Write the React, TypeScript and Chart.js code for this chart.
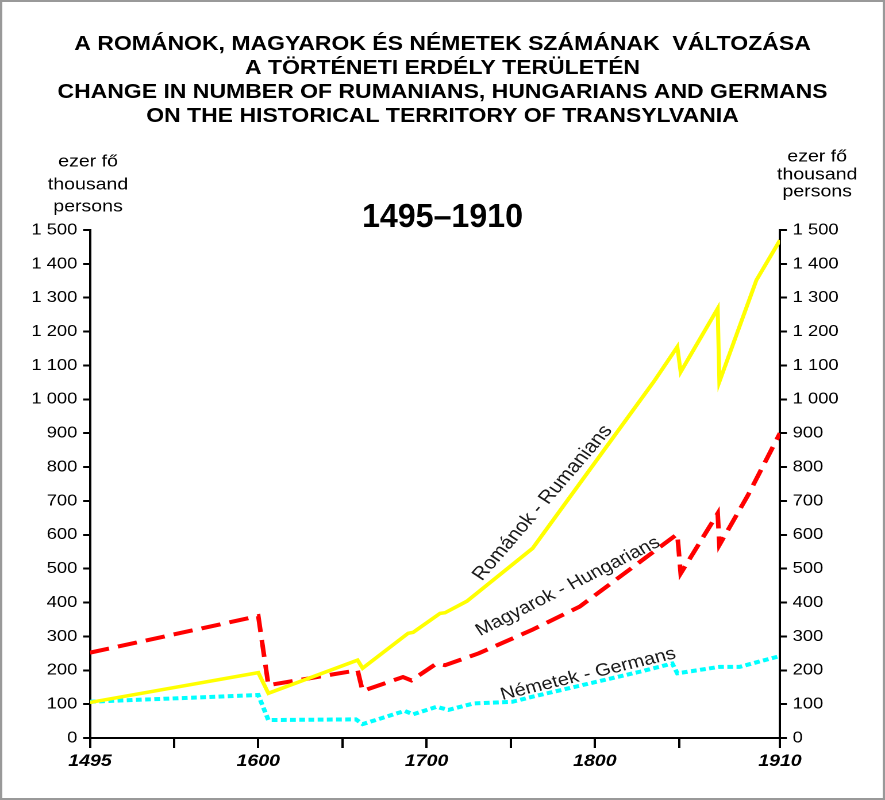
import { useEffect, useRef } from 'react';
import { Chart, registerables } from 'chart.js';

Chart.register(...registerables);

// ---- data ----
const TITLE_LINES = [
  'A ROMÁNOK, MAGYAROK ÉS NÉMETEK SZÁMÁNAK  VÁLTOZÁSA',
  'A TÖRTÉNETI ERDÉLY TERÜLETÉN',
  'CHANGE IN NUMBER OF RUMANIANS, HUNGARIANS AND GERMANS',
  'ON THE HISTORICAL TERRITORY OF TRANSYLVANIA',
];
const PERIOD_LABEL = '1495–1910';
const UNIT_LINES = ['ezer fő', 'thousand', 'persons'];

// x axis: the first tick (drawn at the 1500 position) is labelled 1495 in the original
const X_TICKS = [1500, 1550, 1600, 1650, 1700, 1750, 1800, 1850, 1910];
const X_TICK_LABELS: Record<number, string> = { 1500: '1495', 1600: '1600', 1700: '1700', 1800: '1800', 1910: '1910' };

const ROM_YEARS = [1500, 1600, 1606, 1659, 1662, 1689, 1692, 1708, 1711, 1724, 1763, 1835, 1849, 1851, 1873, 1874, 1896, 1910];
const ROM_VALUES = [105, 193, 132, 230, 206, 309, 312, 368, 370, 404, 560, 1052, 1155, 1081, 1268, 1052, 1352, 1470];

const MAG_YEARS = [1500, 1600, 1606, 1659, 1662, 1686, 1691, 1706, 1711, 1731, 1763, 1791, 1849, 1851, 1873, 1874, 1891, 1910];
const MAG_VALUES = [252, 360, 156, 200, 139, 180, 170, 220, 215, 250, 320, 388, 602, 486, 663, 570, 717, 900];

const NEM_YEARS = [1500, 1600, 1606, 1658, 1662, 1687, 1692, 1706, 1713, 1728, 1751, 1763, 1827, 1846, 1849, 1874, 1886, 1910];
const NEM_VALUES = [107, 127, 53, 55, 41, 80, 70, 92, 83, 102, 107, 122, 196, 220, 191, 210, 210, 242];

const SERIES_NAMES = ['Románok - Rumanians', 'Magyarok - Hungarians', 'Németek - Germans'];

// ---- layout / style ----
const W = 770; // logical width, displayed stretched to 885px like the reference
const H = 800;
const FONT = '"Liberation Sans", Arial, Helvetica, sans-serif';
const LABEL_PLACES = [
  { year: 1769, value: 694, angle: 53, size: 18.5 },
  { year: 1784, value: 447, angle: 30, size: 17.5 },
  { year: 1796, value: 188, angle: 15.5, size: 17.5 },
];

function fmtThousands(v: number): string {
  if (v >= 1000) {
    const t = Math.floor(v / 1000);
    const r = String(v % 1000).padStart(3, '0');
    return `${t} ${r}`;
  }
  return String(v);
}

function pts(xs: number[], ys: number[]) {
  return xs.map((x, i) => ({ x, y: ys[i] }));
}

export default function App() {
  const ref = useRef<HTMLCanvasElement>(null);

  useEffect(() => {
    document.body.style.margin = '0';
    const canvas = ref.current!;

    const decor = {
      id: 'decor',
      beforeDraw(chart: any) {
        const ctx = chart.ctx;
        ctx.save();
        ctx.fillStyle = '#ffffff';
        ctx.fillRect(0, 0, W, H);
        ctx.restore();
      },
      afterDatasetsDraw(chart: any) {
        const ctx = chart.ctx;
        const xs = chart.scales.x;
        const ys = chart.scales.y;
        ctx.save();
        ctx.fillStyle = '#1a1a1a';
        ctx.textAlign = 'center';
        ctx.textBaseline = 'middle';
        SERIES_NAMES.forEach((name, i) => {
          const p = LABEL_PLACES[i];
          const px = xs.getPixelForValue(p.year);
          const py = ys.getPixelForValue(p.value);
          ctx.save();
          ctx.font = `${p.size}px ${FONT}`;
          ctx.translate(px, py);
          ctx.rotate((-p.angle * Math.PI) / 180);
          ctx.fillText(name, 0, 0);
          ctx.restore();
        });
        ctx.restore();
      },
      afterDraw(chart: any) {
        const ctx = chart.ctx;
        ctx.save();
        // frame
        ctx.strokeStyle = '#999999';
        ctx.lineWidth = 2;
        ctx.strokeRect(1, 1, W - 2, H - 2);
        // title
        ctx.fillStyle = '#000';
        ctx.textAlign = 'center';
        ctx.textBaseline = 'alphabetic';
        ctx.font = `bold 20px ${FONT}`;
        const ty = [50, 74, 98, 122];
        TITLE_LINES.forEach((t, i) => ctx.fillText(t, W / 2, ty[i]));
        // period label
        ctx.font = `bold 33px ${FONT}`;
        ctx.fillText(PERIOD_LABEL, 385, 227, 140);
        // unit titles
        ctx.font = `17px ${FONT}`;
        ctx.textBaseline = 'middle';
        const ly = [162, 185, 207];
        const ry = [157, 175, 192];
        UNIT_LINES.forEach((t, i) => ctx.fillText(t, 76.6, ly[i]));
        UNIT_LINES.forEach((t, i) => ctx.fillText(t, 711, ry[i]));
        ctx.restore();
      },
    };

    const yTicks = {
      stepSize: 100,
      color: '#000',
      padding: 5,
      font: { family: FONT, size: 16 },
      callback: (v: any) => fmtThousands(Number(v)),
    };
    const yGrid = { drawOnChartArea: false, color: '#000', lineWidth: 2, tickLength: 6 };

    const chart = new Chart(canvas, {
      type: 'line',
      data: {
        datasets: [
          {
            label: SERIES_NAMES[0],
            data: pts(ROM_YEARS, ROM_VALUES),
            borderColor: '#FFFF00',
            borderWidth: 3.5,
            pointRadius: 0,
            tension: 0,
          },
          {
            label: SERIES_NAMES[1],
            data: pts(MAG_YEARS, MAG_VALUES),
            borderColor: '#FF0000',
            borderWidth: 4,
            borderDash: [17, 8],
            pointRadius: 0,
            tension: 0,
          },
          {
            label: SERIES_NAMES[2],
            data: pts(NEM_YEARS, NEM_VALUES),
            borderColor: '#00FFFF',
            borderWidth: 4,
            borderDash: [5, 3],
            pointRadius: 0,
            tension: 0,
          },
        ],
      },
      options: {
        animation: false,
        responsive: false,
        maintainAspectRatio: false,
        devicePixelRatio: 2,
        layout: { padding: { top: 230, bottom: 12, left: 0, right: 0 } },
        plugins: { legend: { display: false }, tooltip: { enabled: false }, title: { display: false } },
        scales: {
          x: {
            type: 'linear',
            min: 1500,
            max: 1910,
            afterBuildTicks: (s: any) => {
              s.ticks = X_TICKS.map((v) => ({ value: v }));
            },
            afterFit: (s: any) => {
              s.height = 50;
            },
            ticks: {
              autoSkip: false,
              maxRotation: 0,
              color: '#000',
              padding: 3,
              font: { family: FONT, size: 17, style: 'italic', weight: 'bold' },
              callback: (v: any) => X_TICK_LABELS[Number(v)] ?? '',
            },
            grid: { drawOnChartArea: false, color: '#000', lineWidth: 2, tickLength: 10 },
            border: { color: '#000', width: 2 },
          },
          y: {
            position: 'left',
            min: 0,
            max: 1500,
            afterFit: (s: any) => {
              s.width = 78.3;
            },
            ticks: yTicks,
            grid: yGrid,
            border: { color: '#000', width: 2 },
          },
          y2: {
            position: 'right',
            min: 0,
            max: 1500,
            afterFit: (s: any) => {
              s.width = W - 678.6;
            },
            ticks: yTicks,
            grid: yGrid,
            border: { color: '#000', width: 2 },
          },
        },
      } as any,
      plugins: [decor],
    });
    canvas.style.width = '885px';
    canvas.style.height = '800px';

    return () => chart.destroy();
  }, []);

  return (
    <canvas
      ref={ref}
      width={W}
      height={H}
      style={{ display: 'block', width: '885px', height: '800px' }}
    />
  );
}
